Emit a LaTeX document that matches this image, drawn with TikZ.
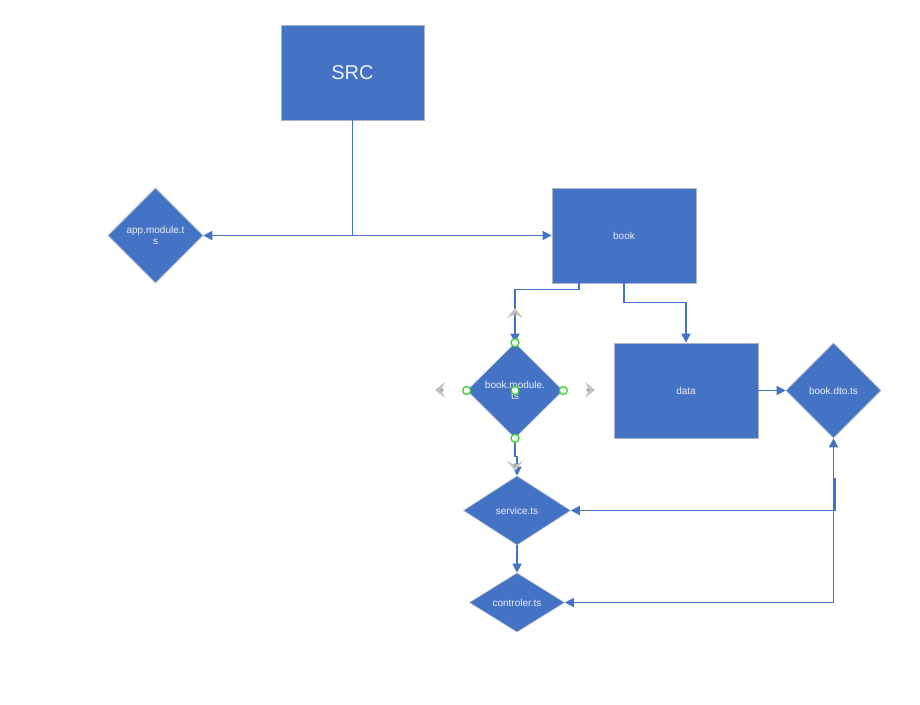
\documentclass[tikz,border=0pt]{standalone}
\usepackage{fontspec}
\setmainfont{Liberation Sans}
\usetikzlibrary{shapes.geometric,arrows.meta}
\definecolor{boxblue}{HTML}{4472C4}
\definecolor{boxedge}{HTML}{A9B5CC}
\definecolor{txt}{HTML}{EAF0FA}
\definecolor{handlegreen}{HTML}{3BD12F}
\definecolor{handlegrey}{HTML}{C4C4C4}
\tikzset{
  rectbox/.style={rectangle, fill=boxblue, draw=boxedge, line width=0.8pt, inner sep=0pt,
    text=txt, font=\fontsize{10}{12}\selectfont, align=center},
  diabox/.style={diamond, fill=boxblue, draw=boxedge, line width=0.6pt, inner sep=0pt,
    text=txt, font=\fontsize{10}{11}\selectfont, align=center},
  conn/.style={draw=boxblue, line width=1.4pt, -{Triangle[length=9pt,width=9pt]}},
  plain/.style={draw=boxblue, line width=1.4pt},
  ghandle/.style={circle, draw=handlegreen, fill=white, line width=1.3pt, minimum size=8pt, inner sep=0pt},
  greyarrow/.style={fill=handlegrey},
  greydot/.style={fill=gray!70, draw=none}
}
\begin{document}
\begin{tikzpicture}[x=1pt,y=-1pt]
\useasboundingbox (0,0) rectangle (920,704);

% nodes
\node[rectbox, minimum width=143pt, minimum height=95pt, font=\fontsize{20}{24}\selectfont] (src) at (352.5,72.5) {SRC};
\node[diabox, minimum width=95pt, minimum height=95pt] (app) at (155.5,235.5) {app.module.t\\s};
\node[rectbox, minimum width=144pt, minimum height=95pt] (book) at (624,235.5) {book};
\node[diabox, minimum width=96pt, minimum height=95pt] (bmod) at (515,390.5) {book.module.\\ts};
\node[rectbox, minimum width=144pt, minimum height=95pt] (data) at (686,390.5) {data};
\node[diabox, minimum width=95pt, minimum height=95pt] (dto) at (833.5,390.5) {book.dto.ts};
\node[diabox, minimum width=107pt, minimum height=69pt] (service) at (517,510.5) {service.ts};
\node[diabox, minimum width=95pt, minimum height=59pt] (ctrl) at (517,602.5) {controler.ts};

% connectors
\coordinate (junc) at (src.south |- app.east);
\draw[conn] (src.south) -- (junc) -- (app.east);
\draw[conn] (junc) -- (book.west);
\draw[conn] ([xshift=-45pt]book.south) -- ++(0,6) -| (bmod.north);
\draw[conn] (book.south) -- ++(0,19) -| (data.north);
\draw[conn] (data.east) -- (dto.west);
\draw[conn] (bmod.south) -- ++(0,18) -| (service.north);
\draw[conn] (service.south) -- (ctrl.north);
\coordinate (r1) at (833.5,510.5);
\coordinate (r2) at (835,478);
\coordinate (r3) at (833.5,510.5);
\draw[conn] (r1) -- (dto.south);
\draw[conn] (r2) |- (service.east);
\draw[conn] (r3) |- (ctrl.east);

% selection handles (grey arrows)
\fill[greyarrow] (507,318) -- (515,308) -- (523,318) -- (515,314) -- cycle;
\fill[greydot] (515,314) circle (1.8pt);
\fill[greyarrow] (507,461) -- (515,471) -- (523,461) -- (515,465) -- cycle;
\fill[greydot] (515,465) circle (1.8pt);
\fill[greyarrow] (445,382) -- (435,390) -- (445,398) -- (441,390) -- cycle;
\fill[greydot] (442,390) circle (1.8pt);
\fill[greyarrow] (585,382) -- (595,390) -- (585,398) -- (589,390) -- cycle;
\fill[greydot] (588,390) circle (1.8pt);

% selection handles (green circles)
\node[ghandle] at (bmod.north) {};
\node[ghandle] at (bmod.south) {};
\node[ghandle] at (bmod.west) {};
\node[ghandle] at (bmod.east) {};
\node[ghandle] at (bmod.center) {};
\end{tikzpicture}
\end{document}
